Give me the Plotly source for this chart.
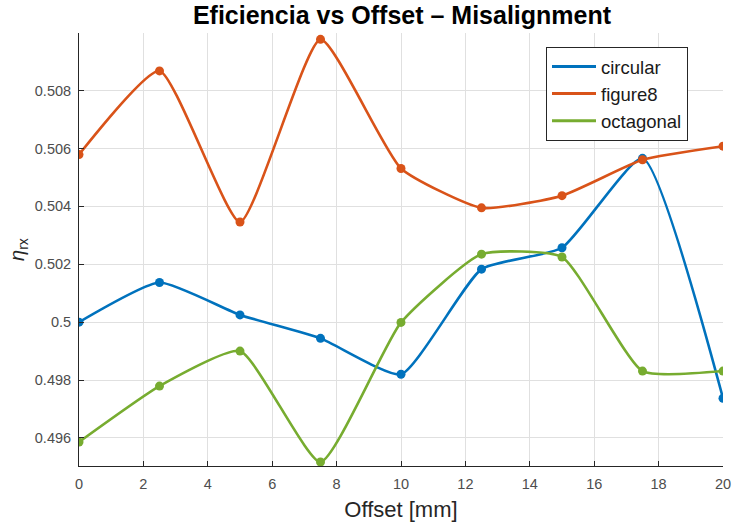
import plotly.graph_objects as go

# Offset positions (mm) and receiver efficiency per coil geometry
offset_mm = [0, 2.5, 5, 7.5, 10, 12.5, 15, 17.5, 20]
eta_circular = [0.50000, 0.50137, 0.50025, 0.49944, 0.49820, 0.50183, 0.50257, 0.50566, 0.49737]
eta_figure8 = [0.50579, 0.50868, 0.50346, 0.50977, 0.50531, 0.50395, 0.50437, 0.50561, 0.50608]
eta_octagonal = [0.49586, 0.49779, 0.49900, 0.49517, 0.49999, 0.50235, 0.50225, 0.49831, 0.49831]

x_ticks = [0, 2, 4, 6, 8, 10, 12, 14, 16, 18, 20]
y_ticks = [0.496, 0.498, 0.500, 0.502, 0.504, 0.506, 0.508]
y_tick_text = ["0.496", "0.498", "0.5", "0.502", "0.504", "0.506", "0.508"]

series = [
    ("circular", eta_circular, "#0072BD"),
    ("figure8", eta_figure8, "#D95319"),
    ("octagonal", eta_octagonal, "#77AC30"),
]

FONT = "Liberation Sans, Arial, sans-serif"
W, H = 732, 524
L, R, T, B = 79, 9, 33, 58

fig = go.Figure()
for name, vals, color in series:
    # smooth curve with data markers
    fig.add_trace(go.Scatter(
        x=offset_mm, y=vals, name=name, showlegend=False,
        mode="lines+markers",
        line=dict(color=color, width=2.6, shape="spline", smoothing=0.5),
        marker=dict(color=color, size=9),
    ))
for name, vals, color in series:
    # line-only legend entries
    fig.add_trace(go.Scatter(
        x=[None], y=[None], name=name, mode="lines",
        line=dict(color=color, width=3),
    ))

axis_font = dict(family=FONT, size=14.5, color="#4d4d4d")
fig.update_layout(
    width=W, height=H,
    margin=dict(l=L, r=R, t=T, b=B, autoexpand=False),
    paper_bgcolor="white", plot_bgcolor="white",
    title=dict(text="<b>Eficiencia vs Offset \u2013 Misalignment</b>",
               x=402 / W, xanchor="center",
               y=1 - 15 / H, yanchor="middle",
               font=dict(family=FONT, size=25, color="black")),
    font=dict(family=FONT),
    legend=dict(x=(546 - L) / (W - L - R), y=(H - B - 47) / (H - B - T),
                xanchor="left", yanchor="top",
                bgcolor="white", bordercolor="#262626", borderwidth=1,
                font=dict(size=18.5, color="#1a1a1a"),
                itemwidth=44, tracegroupgap=0),
)

fig.update_xaxes(
    range=[0, 20], tickvals=x_ticks, ticks="inside", ticklen=5, tickcolor="#262626",
    ticklabelstandoff=5, automargin=False,
    showgrid=True, gridcolor="#e0e0e0", gridwidth=1,
    showline=True, linecolor="#262626", linewidth=1, mirror=False, zeroline=False,
    tickfont=axis_font,
    title=dict(text="Offset [mm]", font=dict(family=FONT, size=22, color="#262626"), standoff=10),
)
fig.update_yaxes(
    range=[0.49503, 0.50999], tickvals=y_ticks, ticktext=y_tick_text,
    ticks="inside", ticklen=5, tickcolor="#262626",
    ticklabelstandoff=4, automargin=False,
    showgrid=True, gridcolor="#e0e0e0", gridwidth=1,
    showline=True, linecolor="#262626", linewidth=1, mirror=False, zeroline=False,
    tickfont=axis_font,
    title=dict(text="<i>η</i><sub>rx</sub>", font=dict(family=FONT, size=20, color="#262626"), standoff=4),
)

fig.write_html("out.html")
